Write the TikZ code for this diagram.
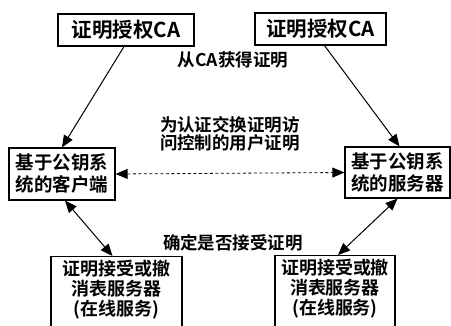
\documentclass[tikz,border=0pt]{standalone}
\usepackage{fontspec}
\setmainfont{Noto Sans CJK SC}[BoldFont={Noto Sans CJK SC Bold}]
\usetikzlibrary{arrows.meta}
\begin{document}
\begin{tikzpicture}[x=1pt,y=-1pt,
  box/.style={draw, line width=1.2pt, inner sep=0pt, align=center},
  txt/.style={align=center, inner sep=0pt},
  lbl/.style={align=center, inner sep=0pt, font=\fontsize{17.5}{18}\selectfont\bfseries},
  tip/.tip={Triangle[length=12pt,width=10pt]},
  arr/.style={line width=1pt, -tip},
  darr/.style={line width=1pt, tip-tip},
  dline/.style={line width=0.8pt, dash pattern=on 3pt off 2.5pt, tip-tip}
  ]
\useasboundingbox (0,0) rectangle (451,326);
\clip (0,0) rectangle (451,326);
% top CA boxes
\node[box, minimum width=136pt, minimum height=32pt, font=\fontsize{20.5}{22}\selectfont\bfseries] (ca1) at (126,30) {证明授权CA};
\node[box, minimum width=131pt, minimum height=32pt, font=\fontsize{20.5}{22}\selectfont\bfseries] (ca2) at (320.5,29) {证明授权CA};
% middle boxes
\node[box, minimum width=106pt, minimum height=52pt, font=\fontsize{18.5}{22}\selectfont\bfseries] (cl) at (62,174) {基于公钥系\\统的客户端};
\node[box, minimum width=105pt, minimum height=51pt, font=\fontsize{18.5}{22}\selectfont\bfseries] (sv) at (397.5,172.5) {基于公钥系\\统的服务器};
% bottom boxes (cut by the lower border)
\node[box, minimum width=131pt, minimum height=80pt, anchor=north] (ocl) at (116.5,256) {};
\node[txt, anchor=north, font=\fontsize{18}{20}\selectfont\bfseries] (ocltxt) at (116.5,260) {证明接受或撤\\消表服务器\\(在线服务)};
\node[box, minimum width=120pt, minimum height=80pt, anchor=north] (ocr) at (335,255) {};
\node[txt, anchor=north, font=\fontsize{18}{20}\selectfont\bfseries] (ocrtxt) at (335,259) {证明接受或撤\\消表服务器\\(在线服务)};
% labels
\node[lbl] (l1) at (233,60) {从CA获得证明};
\node[lbl] (l2) at (230,134) {为认证交换证明访\\问控制的用户证明};
\node[lbl] (l3) at (233,243) {确定是否接受证明};
% connectors
\draw[arr] ([xshift=-2pt]ca1.south) -- (cl.north);
\draw[arr] ([xshift=4pt]ca2.south) -- ([xshift=2pt]sv.north);
\draw[darr] ([xshift=3pt]cl.south) -- ([xshift=-4pt]ocl.north);
\draw[darr] (sv.south) -- ([xshift=3pt]ocr.north);
\draw[dline] (cl.east) -- (sv.west);
\end{tikzpicture}
\end{document}
